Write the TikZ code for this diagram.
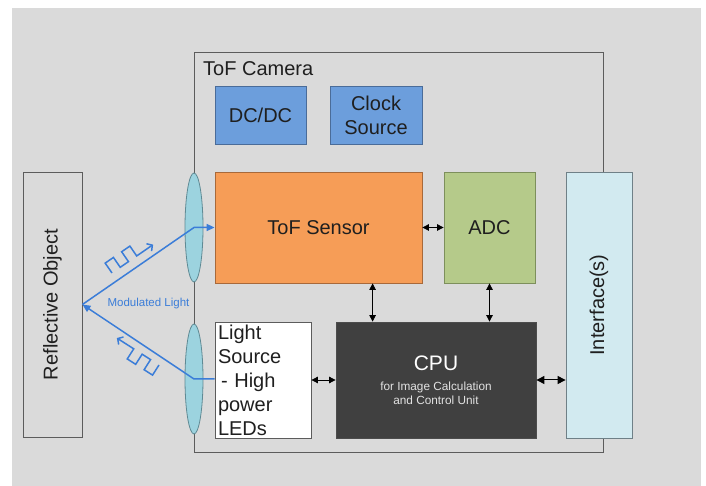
\documentclass[tikz,border=0pt]{standalone}
\usepackage{fontspec}
\setmainfont{Liberation Sans}
\usetikzlibrary{shapes,arrows.meta,positioning}

\definecolor{bggray}{HTML}{DADADA}
\definecolor{framegray}{HTML}{5C5C5C}
\definecolor{dcblue}{HTML}{6C9EDC}
\definecolor{dcedge}{HTML}{4A6C99}
\definecolor{sensororange}{HTML}{F69D57}
\definecolor{sensoredge}{HTML}{A8693A}
\definecolor{adcgreen}{HTML}{B5CA8A}
\definecolor{adcedge}{HTML}{7D8F5C}
\definecolor{cpudark}{HTML}{404040}
\definecolor{cpusub}{HTML}{E2E2E2}
\definecolor{ifblue}{HTML}{D2EAF0}
\definecolor{ifedge}{HTML}{6F8087}
\definecolor{lensteal}{HTML}{9CD3DF}
\definecolor{lensedge}{HTML}{5F8A94}
\definecolor{raysblue}{HTML}{3B7DD8}

\newcommand{\cpusubfont}{\fontsize{11.8}{14}\selectfont\color{cpusub}}

\begin{document}
\begin{tikzpicture}[x=1pt,y=1pt,
		blk/.style={draw,line width=0.8pt,inner sep=0pt,font=\fontsize{20}{24}\selectfont,text=black!88},
		lens/.style={ellipse,draw=lensedge,fill=lensteal,line width=0.8pt,minimum width=18pt,minimum height=110pt,inner sep=0pt},
		link/.style={line width=0.8pt,{Triangle[length=6.5pt,width=6.5pt]}-{Triangle[length=6.5pt,width=6.5pt]}},
		ray/.style={raysblue,line width=1.5pt},
		wave/.style={raysblue,line width=1.5pt,line join=miter,-{Straight Barb[length=4pt,width=9pt]}}]
	\useasboundingbox (0,0) rectangle (706,486);
	\fill[bggray] (12,0) rectangle (701,478);

	\node[draw=framegray,line width=1pt,minimum width=409pt,minimum height=400pt,inner sep=0pt] (cam) at (398.5,233) {};
	\node[anchor=west,inner sep=0pt,font=\fontsize{20}{24}\selectfont,text=black!88] (camlbl) at (203,417) {ToF Camera};

	\node[blk,draw=dcedge,fill=dcblue,minimum width=91pt,minimum height=58pt] (dcdc) at (260.5,371) {DC/DC};
	\node[blk,draw=dcedge,fill=dcblue,minimum width=92pt,minimum height=58pt,align=center] (clk) at (376,371) {Clock\\Source};
	\node[blk,draw=sensoredge,fill=sensororange,minimum width=207pt,minimum height=111pt] (sensor) at (318.5,258.5) {ToF Sensor};
	\node[blk,draw=adcedge,fill=adcgreen,minimum width=91pt,minimum height=111pt] (adc) at (489.5,258.5) {ADC};
	\node[blk,draw=ifedge,fill=ifblue,rotate=90,minimum width=266pt,minimum height=66pt] (iface) at (599,181) {Interface(s)};
	\node[blk,draw=black!70,fill=cpudark,text=white,minimum width=200pt,minimum height=116pt,align=center] (cpu) at (436,106)
		{\fontsize{21}{22}\selectfont CPU\\[-4pt]\cpusubfont for Image Calculation\\[-10pt]\cpusubfont and Control Unit};
	\node[blk,draw=framegray,fill=white,minimum height=116pt,inner xsep=3pt,text width=90pt,align=left] (lsrc) at (263,106)
		{Light\\Source\\\hspace*{3pt}- High\\power\\LEDs};
	\node[blk,draw=framegray,fill=bggray,rotate=90,minimum width=265pt,minimum height=59pt] (refl) at (52.5,181.5) {Reflective Object};

	\node[lens,minimum height=109pt] (lensup) at (194,258.5) {};
	\node[lens] (lenslo) at (194,107) {};

	\draw[ray,-{Triangle[length=8pt,width=7pt]}] (refl.south) -- (lensup.center) -- (sensor.west);
	\draw[ray,-{Triangle[length=8pt,width=7pt]}] (lenslo.center -| lsrc.west) -- (lenslo.center) -- (refl.south);
	\node[text=raysblue,inner sep=0pt,font=\fontsize{11.5}{13}\selectfont] (modlbl) at (148.5,182) {Modulated Light};

	\begin{scope}[shift={(112,213)},rotate=34.6]
		\draw[wave] (0,0) -- (0,12) -- (10,12) -- (10,0) -- (20,0) -- (20,12) -- (30,12) -- (30,0) -- (50,0);
	\end{scope}
	\begin{scope}[shift={(159,121)},rotate=147.4]
		\draw[wave] (0,0) -- (0,12) -- (10,12) -- (10,0) -- (20,0) -- (20,12) -- (30,12) -- (30,0) -- (50,0);
	\end{scope}

	\draw[link] (sensor) -- (adc);
	\draw[link] ([xshift=37pt]cpu.north west) -- ([xshift=37pt]cpu.north west |- sensor.south);
	\draw[link] (adc.south) -- (adc.south |- cpu.north);
	\draw[link] (lsrc) -- (cpu);
	\draw[line width=1pt,{Triangle[length=8pt,width=8pt]}-{Triangle[length=8pt,width=8pt]}] (cpu.east) -- (cpu.east -| iface.north);
\end{tikzpicture}
\end{document}
